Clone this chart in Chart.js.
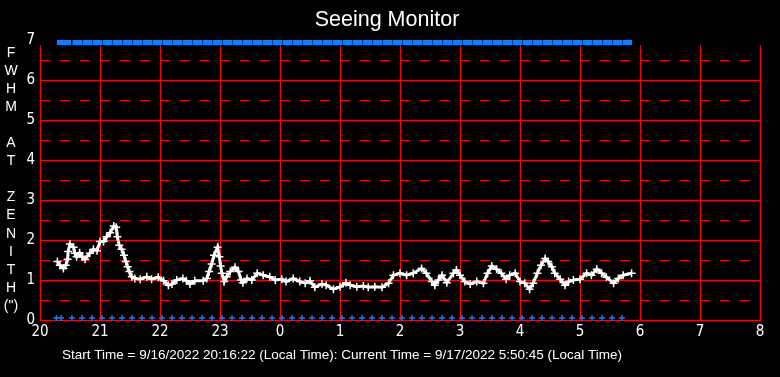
<!DOCTYPE html>
<html>
<head>
<meta charset="utf-8">
<script src="https://cdn.jsdelivr.net/npm/chart.js@4.4.0/dist/chart.umd.min.js"></script>
<style>
  html, body { margin: 0; padding: 0; background: #000; }
  #wrap { width: 780px; height: 377px; position: relative; }
</style>
</head>
<body>
<div id="wrap"><canvas id="seeing" width="780" height="377"></canvas></div>
<script>
// Hora local en decimal (24 = medianoche, 25 = 1h del 17/9)
const horasSeeing = [
  20.29, 20.33, 20.39, 20.43, 20.46, 20.47, 20.50, 20.56, 20.58, 20.61, 20.66, 20.71, 20.75, 20.83, 20.89, 20.95,
  21.00, 21.06, 21.11, 21.17, 21.23, 21.27, 21.29, 21.32, 21.36, 21.40, 21.43, 21.46, 21.49, 21.53, 21.58, 21.67,
  21.78, 21.86, 21.97, 22.06, 22.14, 22.20, 22.28, 22.38, 22.44, 22.50, 22.58, 22.72, 22.78, 22.82, 22.86, 22.90,
  22.96, 22.99, 23.01, 23.03, 23.07, 23.11, 23.17, 23.25, 23.31, 23.35, 23.38, 23.45, 23.53, 23.62, 23.72, 23.83,
  23.92, 24.03, 24.10, 24.22, 24.33, 24.42, 24.50, 24.58, 24.70, 24.77, 24.89, 25.00, 25.10, 25.17, 25.28, 25.39,
  25.47, 25.58, 25.70, 25.81, 25.89, 26.00, 26.11, 26.22, 26.36, 26.44, 26.53, 26.58, 26.64, 26.70, 26.78, 26.89,
  26.94, 27.00, 27.08, 27.17, 27.28, 27.39, 27.46, 27.53, 27.61, 27.69, 27.77, 27.83, 27.92, 28.00, 28.08, 28.16,
  28.22, 28.29, 28.35, 28.42, 28.47, 28.53, 28.58, 28.67, 28.75, 28.81, 28.89, 29.00, 29.11, 29.19, 29.28, 29.36,
  29.44, 29.56, 29.64, 29.72, 29.86
];
const fwhmSeeing = [
  1.46, 1.37, 1.29, 1.37, 1.52, 1.71, 1.90, 1.82, 1.67, 1.58, 1.68, 1.57, 1.52, 1.67, 1.77, 1.73,
  1.96, 1.96, 2.08, 2.18, 2.35, 2.32, 2.08, 1.87, 1.77, 1.62, 1.46, 1.33, 1.21, 1.08, 1.04, 1.02,
  1.08, 1.02, 1.07, 0.98, 0.87, 0.90, 1.00, 1.04, 0.98, 0.90, 0.98, 0.98, 1.04, 1.21, 1.40, 1.62,
  1.82, 1.58, 1.35, 1.17, 0.96, 1.08, 1.21, 1.32, 1.21, 1.00, 0.93, 1.04, 1.00, 1.17, 1.12, 1.08,
  1.00, 1.02, 0.96, 1.04, 0.96, 0.92, 0.98, 0.82, 0.90, 0.87, 0.77, 0.83, 0.93, 0.87, 0.83, 0.85,
  0.82, 0.83, 0.82, 0.92, 1.12, 1.17, 1.12, 1.17, 1.29, 1.17, 0.96, 0.87, 1.00, 1.12, 0.93, 1.17,
  1.25, 1.12, 0.96, 0.90, 0.96, 0.92, 1.17, 1.35, 1.27, 1.17, 1.02, 1.12, 1.17, 0.96, 0.92, 0.77,
  0.92, 1.17, 1.37, 1.54, 1.46, 1.33, 1.17, 1.02, 0.87, 0.96, 1.00, 1.02, 1.17, 1.12, 1.27, 1.17,
  1.07, 0.92, 1.04, 1.12, 1.17
];

// Marcas azules (minutos desde las 20:00)
const minutosMarcas = [
  16.4, 21, 32, 42, 52, 62, 72, 82, 92, 102, 112, 122, 132, 142, 152, 162, 172, 182, 192, 202,
  212, 222, 232, 242, 252, 262, 272, 282, 292, 302, 312, 322, 332, 342, 352, 362, 372, 382, 392, 402,
  412, 422, 432, 442, 452, 462, 472, 482, 492, 502, 512, 522, 532, 542, 552, 562, 572, 582
];
const nivelMarcaArriba = 6.94;
const nivelMarcaAbajo = 0.05;

const etiquetasHoras = ['20', '21', '22', '23', '0', '1', '2', '3', '4', '5', '6', '7', '8'];
const ticksFwhm = [0, 1, 2, 3, 4, 5, 6, 7];
const letrasEjeY = ['F', 'W', 'H', 'M', '', 'A', 'T', '', 'Z', 'E', 'N', 'I', 'T', 'H', '(")'];
const TITULO = 'Seeing Monitor';
const PIE = 'Start Time = 9/16/2022 20:16:22 (Local Time): Current Time = 9/17/2022 5:50:45 (Local Time)';

const ROJO = '#ff0000';
const AZUL = '#0a80ff';
const FUENTE = '"Liberation Sans", Arial, sans-serif';
const FUENTE_ESTRECHA = '"Liberation Sans Narrow", "DejaVu Sans Condensed", "Liberation Sans", sans-serif';
const TOPE_MARCO = 6.875; // el marco rojo queda un poco por debajo del 7

// marcador de la franja superior: bloque a la derecha del punto
const marcaBarra = document.createElement('canvas');
marcaBarra.width = 19;
marcaBarra.height = 5;
(() => {
  const c = marcaBarra.getContext('2d');
  c.fillStyle = AZUL;
  c.fillRect(10, 0, 9, 5);
})();

const puntosSeeing = horasSeeing.map((h, i) => ({ x: h, y: fwhmSeeing[i] }));
const horasMarcas = minutosMarcas.map(m => 20 + m / 60);
const puntosArriba = horasMarcas.map(h => ({ x: h, y: nivelMarcaArriba }));
const puntosAbajo = horasMarcas.map(h => ({ x: h, y: nivelMarcaAbajo }));

// Lineas discontinuas en las medias unidades
const mediasPlugin = {
  id: 'medias',
  beforeDatasetsDraw(chart) {
    const { ctx, chartArea, scales } = chart;
    ctx.save();
    ctx.strokeStyle = ROJO;
    ctx.lineWidth = 1;
    ctx.setLineDash([10, 10]);
    for (let v = 0.5; v < scales.y.max; v += 1) {
      const y = Math.round(scales.y.getPixelForValue(v)) + 0.5;
      ctx.beginPath();
      ctx.moveTo(chartArea.left, y);
      ctx.lineTo(chartArea.right, y);
      ctx.stroke();
    }
    ctx.restore();
  }
};

// Textos fuera del area del grafico
const textosPlugin = {
  id: 'textos',
  afterDraw(chart) {
    const ctx = chart.ctx;
    ctx.save();
    ctx.fillStyle = '#fff';
    ctx.textBaseline = 'middle';
    ctx.textAlign = 'center';
    ctx.font = '21.5px ' + FUENTE;
    ctx.fillText(TITULO, 387, 20);
    ctx.font = '14px ' + FUENTE;
    letrasEjeY.forEach((l, i) => {
      if (l) ctx.fillText(l, 11, 53 + i * 18.07);
    });
    ctx.textAlign = 'left';
    ctx.font = '13.5px ' + FUENTE;
    ctx.fillText(PIE, 62, 355);
    ctx.restore();
  }
};

new Chart(document.getElementById('seeing'), {
  type: 'scatter',
  data: {
    datasets: [
      {
        data: puntosSeeing,
        showLine: true,
        borderColor: '#fff',
        borderWidth: 3,
        pointStyle: 'cross',
        pointRadius: 4,
        pointBorderWidth: 1.5,
        pointBorderColor: '#fff',
        clip: false
      },
      {
        data: puntosArriba,
        pointStyle: marcaBarra,
        pointRadius: 5,
        clip: false
      },
      {
        data: puntosAbajo,
        pointStyle: 'cross',
        pointRadius: 3,
        pointBorderWidth: 1.5,
        pointBorderColor: AZUL,
        clip: false
      }
    ]
  },
  options: {
    responsive: false,
    animation: false,
    events: [],
    layout: { padding: { left: 0, right: 20, top: 45, bottom: 0 } },
    plugins: { legend: { display: false }, tooltip: { enabled: false } },
    scales: {
      x: {
        type: 'linear',
        min: 20,
        max: 32,
        afterFit: s => { s.height = 57; },
        ticks: {
          stepSize: 1,
          color: '#fff',
          padding: 3,
          font: { size: 15, family: FUENTE_ESTRECHA },
          callback: (v, i) => etiquetasHoras[i]
        },
        grid: { color: ROJO, lineWidth: 1, drawTicks: false },
        border: { color: ROJO, width: 1 }
      },
      y: {
        min: 0,
        max: TOPE_MARCO,
        afterFit: s => { s.width = 40; },
        afterBuildTicks: s => { s.ticks = ticksFwhm.map(v => ({ value: v })); },
        ticks: {
          color: '#fff',
          padding: 5,
          font: { size: 15, family: FUENTE_ESTRECHA }
        },
        grid: {
          color: c => (c.tick && c.tick.value > TOPE_MARCO) ? 'rgba(0,0,0,0)' : ROJO,
          lineWidth: 1,
          drawTicks: false
        },
        border: { color: ROJO, width: 1 }
      }
    }
  },
  plugins: [mediasPlugin, textosPlugin]
});
</script>
</body>
</html>
